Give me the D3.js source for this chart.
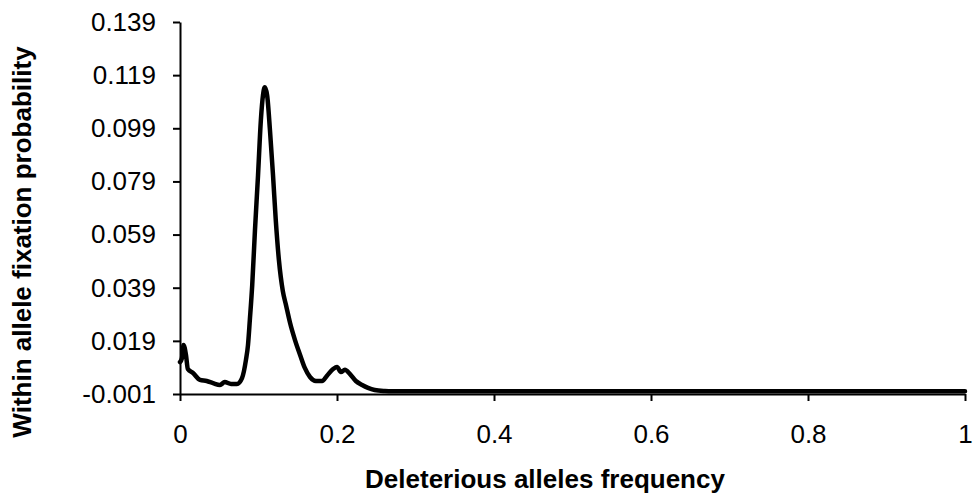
<!DOCTYPE html>
<meta charset="utf-8">
<script src="https://cdn.jsdelivr.net/npm/d3@7/dist/d3.min.js"></script>
<style>
  body { margin: 0; background: #fff; }
  .axis path, .axis line { stroke: #000; stroke-width: 2px; }
  .axis text { font-family: "Liberation Sans", Arial, sans-serif; font-size: 26px; fill: #000; }
  .title { font-family: "Liberation Sans", Arial, sans-serif; font-size: 26px; font-weight: bold; fill: #000; }
</style>

<svg id="graph" width="979" height="500"></svg>

<script>

// allele frequency (x) and within-allele fixation probability (y)
var freq = [0, 0.0025, 0.0045, 0.0076, 0.010, 0.0166, 0.0255, 0.034, 0.042, 0.051,
            0.057, 0.065, 0.0726, 0.079, 0.084, 0.0866, 0.089, 0.092, 0.0955, 0.0994,
            0.103, 0.1057, 0.108, 0.111, 0.1146, 0.1185, 0.122, 0.126, 0.131, 0.135,
            0.140, 0.1465, 0.153, 0.159, 0.1656, 0.173, 0.181, 0.187, 0.195, 0.200,
            0.205, 0.210, 0.2166, 0.224, 0.232, 0.2395, 0.248, 0.261, 0.27, 0.3,
            0.4, 0.5, 0.6, 0.7, 0.8, 0.9, 1.0];
var prob = [0.011, 0.0125, 0.0174, 0.0137, 0.0084, 0.0069, 0.0043, 0.0039, 0.0031, 0.0024,
            0.0035, 0.0028, 0.0028, 0.005, 0.0118, 0.0174, 0.027, 0.040, 0.0607, 0.0813,
            0.102, 0.1114, 0.1144, 0.1114, 0.0983, 0.0813, 0.0644, 0.0494, 0.0377, 0.0325,
            0.026, 0.0193, 0.0137, 0.0088, 0.0054, 0.0039, 0.0039, 0.0058, 0.0084, 0.0092,
            0.0073, 0.0081, 0.0065, 0.0039, 0.0024, 0.0013, 0.0005, 0.0001, 0, 0,
            0, 0, 0, 0, 0, 0, 0];

var xTicks = [0, 0.2, 0.4, 0.6, 0.8, 1];
var xTickLabels = ["0", "0.2", "0.4", "0.6", "0.8", "1"];
var yTicks = [-0.001, 0.019, 0.039, 0.059, 0.079, 0.099, 0.119, 0.139];
var yTickLabels = ["-0.001", "0.019", "0.039", "0.059", "0.079", "0.099", "0.119", "0.139"];

var data = freq.map(function(f, i) { return {freq: f, prob: prob[i]}; });

var svg = d3.select("svg"),
    margin = {top: 22, right: 14, bottom: 106, left: 180},
    width = svg.attr("width") - margin.left - margin.right,
    height = svg.attr("height") - margin.top - margin.bottom,
    g = svg.append("g")
           .attr("transform", "translate(" + margin.left + "," + margin.top + ")");

var x = d3.scaleLinear().domain([0, 1]).range([0, width]),
    y = d3.scaleLinear().domain([-0.001, 0.139]).range([height, 0]);

var line = d3.line()
    .curve(d3.curveMonotoneX)
    .x(function(d) { return x(d.freq); })
    .y(function(d) { return y(d.prob); });

g.append("g")
    .attr("class", "axis axis--x")
    .attr("transform", "translate(0," + height + ")")
    .call(d3.axisBottom(x)
      .tickValues(xTicks)
      .tickSize(7)
      .tickSizeOuter(0)
      .tickPadding(24)
      .tickFormat(function(d, i) { return xTickLabels[i]; }));

g.append("g")
    .attr("class", "axis axis--y")
    .call(d3.axisLeft(y)
      .tickValues(yTicks)
      .tickSize(7)
      .tickSizeOuter(0)
      .tickPadding(17)
      .tickFormat(function(d, i) { return yTickLabels[i]; }));

g.append("path")
    .datum(data)
    .attr("fill", "none")
    .attr("stroke", "#000")
    .attr("stroke-width", 4.5)
    .attr("stroke-linejoin", "round")
    .attr("stroke-linecap", "round")
    .attr("d", line);

svg.append("text")
    .attr("class", "title")
    .attr("x", 545)
    .attr("y", 488)
    .attr("text-anchor", "middle")
    .text("Deleterious alleles frequency");

svg.append("text")
    .attr("class", "title")
    .attr("transform", "translate(31,242) rotate(-90)")
    .attr("text-anchor", "middle")
    .text("Within allele fixation probability");

</script>
